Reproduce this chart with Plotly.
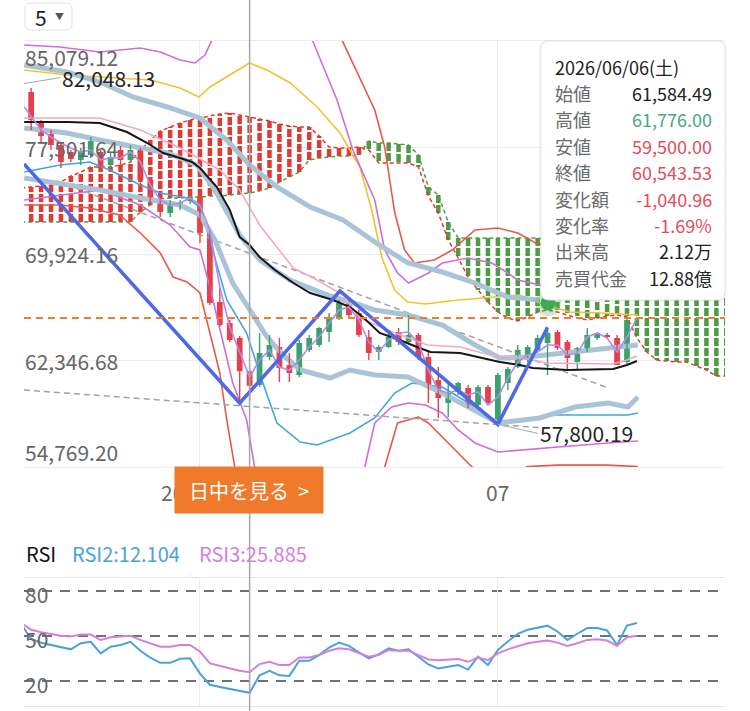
import datetime as dt
import plotly.graph_objects as go

W, H = 750, 711

# ---------------- data ----------------
base_date = dt.date(2026, 6, 1)          # day index 0
candle_days = list(range(-18, 44))
opens = [80200, 81450, 79316, 78462, 77679, 77181, 76612, 76968, 77181, 76256, 77324, 76612, 77324, 75189,
         73553, 72841, 73268, 73695, 73980, 71418, 66509, 65015, 63947, 61584.49, 60604, 62595, 63308, 62026,
         61315, 63094, 63450, 64375, 65370, 66509, 65726, 64018, 62951, 63308, 64375, 63663, 64160, 62595,
         60959, 59322, 60105, 60390, 59180, 60461, 57900, 60746, 61880, 62382, 63094, 63592, 64375, 63663,
         62240, 63094, 63947, 64160, 63947, 62240]
highs = [82048.13, 81735, 79458, 78747, 77893, 77324, 77466, 78249, 77324, 77110, 77608, 77679, 77466, 75403,
         73909, 73766, 73766, 74122, 74122, 71632, 67505, 65228, 64090, 61776.00, 64303, 64161, 63947, 62880,
         63805, 64161, 64730, 65726, 66650, 66793, 65939, 64516, 63450, 64303, 64659, 65583, 64303, 62951,
         61880, 60746, 60817, 60604, 60604, 60604, 61458, 61880, 63450, 63450, 64161, 64516, 64516, 63805,
         63308, 64659, 64303, 64303, 64160, 65370]
lows = [79900, 78746, 77893, 77324, 76043, 76469, 76256, 76754, 75758, 76043, 76256, 76398, 74833, 73410,
        72557, 72557, 73055, 73482, 70707, 66296, 64730, 63663, 59322, 59500.00, 60461, 62382, 60817, 60817,
        61173, 62951, 63308, 63663, 65228, 65441, 64018, 62382, 62382, 63237, 63450, 63592, 62382, 59322,
        58256, 58327, 59892, 58967, 58967, 59180, 57800.19, 60248, 61809, 62240, 62951, 61315, 63094, 61671,
        61671, 62951, 63805, 63947, 62026, 62098]
closes = [81450, 79458, 78320, 77679, 76469, 76683, 77252, 77964, 76043, 76826, 76612, 77324, 75189, 73909,
          72912, 73553, 73625, 73980, 71418, 66438, 64872, 63805, 61584.49, 60543.53, 62880, 63450, 61809, 61457,
          63592, 63947, 64659, 65441, 66438, 65583, 64160, 62880, 63308, 64018, 63663, 64160, 62595, 60604,
          59679, 60034, 60746, 59038, 60461, 59322, 61315, 61738, 63094, 63308, 63947, 64303, 63237, 62524,
          63237, 64160, 64303, 64018, 62026, 65228]
volume_text = "2.12万"
turnover_text = "12.88億"
crosshair_day = 5
current_price = 65370
signal_day, signal_value = 35.05, 66438

y_ticks = [54769.20, 62346.68, 69924.16, 77501.64, 85079.12]
time_ticks = [0, 30]
rsi_levels = [20, 50, 80]

# Ichimoku spans (leading spans, one value per day)
cloud_days = list(range(-18, 54))
span_a = [72201] * 12 + [72912, 73410, 73837, 73909, 73909, 73980, 73980, 74051, 74051, 74122, 74193, 74264,
                         74407, 74620, 75047, 75402, 75758, 76612, 76754, 76825, 76896, 76896, 76968, 77964,
                         77822, 77822, 77750, 77679, 76968, 74691, 74122, 72201] + [71062] * 9 + \
         [70920, 70777, 70564, 70350, 70209, 70067, 69924, 69782] + [69640] * 11
span_b = [74620, 74691, 74762, 74833, 75047, 75474, 75758, 76114, 76114, 76114, 76256, 76469, 77324, 78035,
          78675, 78960, 79245, 79458, 79600, 79743, 79885, 79956, 79814, 79672, 79529, 79387, 79173, 79031,
          78960, 78960, 78320, 77537, 77466, 77466, 77537, 77324, 76398, 76398, 76398, 76398, 76114, 74051,
          72841, 70920, 69640, 68288, 67363, 66509, 65797, 65370, 65157, 65441, 65797, 65940, 65797, 65583,
          65370, 65228, 65370, 65512, 65583, 65441, 63947, 62951, 62382, 62311, 62240, 62240, 61955, 61671,
          61244, 61244]

# band lines
yellow_x = [-17.7, -13.4, -10.1, -5.0, -2.0, -0.1, 1.0, 2.7, 5.0, 6.75, 9.1, 11.8, 14.1, 16.1, 17.3, 18.3,
            19.6, 20.9, 22.7, 26.0, 29.4, 32.2, 34.7, 37.3, 40.3, 44.1]
yellow_y = [83016, 82660, 82518, 82304, 81735, 81095, 81806, 82518, 83514, 83016, 82091, 80383, 78533, 76114,
            73055, 69711, 67363, 66509, 66367, 66651, 66865, 67007, 66296, 65797, 65726, 65583]
purple_up_x = [-17.7, -14.1, -10.1, -6.0, -4.0, -2.0, -0.5, 0.5, 1.3, 4, 8, 11.4, 13.8, 15.4, 17.6, 18.6,
               19.9, 21.0, 23.0, 24.4, 27.0, 29.4, 31.0, 32.0, 34.2, 38.3, 44.1]
purple_up_y = [84794, 84652, 84296, 84581, 84296, 83727, 83514, 84083, 85292, 88500, 89000, 85008, 80881,
               77324, 73766, 70209, 68572, 67861, 68572, 69284, 69640, 69284, 68572, 68074, 67718, 67505, 67363]
red_up_x = [-17.7, 5, 12, 14.3, 17.6, 18.6, 19.6, 20.6, 21.6, 23.6, 25.4, 27.7, 30.0, 32.0, 33.8, 38, 44]
red_up_y = [90500, 93000, 87500, 85150, 80170, 77537, 72912, 70209, 69284, 69497, 70209, 71632, 71775, 71418,
            70707, 70000, 69500]
red_low_x = [-17.7, -14.1, -11.1, -8.1, -6.0, -4.0, -2.7, -1.3, 0, 1.0, 2.0, 2.7, 3.5, 6, 12, 18.6, 19.9,
             22.0, 23.0, 24.4, 26.0, 27.4, 30, 33, 36, 41, 44.1]
red_low_y = [73410, 73410, 73197, 72699, 71418, 69996, 68288, 67932, 67149, 64303, 61457, 58113, 54769, 50000,
             49000, 54769, 57900, 58327, 57900, 56904, 55765, 54769, 53900, 54800, 54900, 54900, 54800]
purple_low_x = [-17.7, -14.1, -10.1, -6.0, -3.0, -1.0, 0, 1.0, 2.3, 3.3, 4.7, 5.5, 9, 14, 16.6, 17.6, 19.3,
                21.0, 22.7, 24.4, 26.0, 27.7, 30.0, 32.7, 36.1, 41.1, 44.1]
purple_low_y = [73766, 74122, 74477, 73410, 71987, 70422, 70209, 67576, 63592, 60746, 58113, 54769, 51500,
                51500, 54769, 57900, 59038, 59322, 59180, 58611, 57402, 56477, 55837, 55979, 56192, 56477, 56619]
blue_x = [-17.7, -14.1, -11.1, -9.1, -6.0, -4.0, -1.3, 0, 1.0, 2.7, 4.7, 6.2, 7.75, 10.1, 11.8, 15.1, 17.6,
          19.6, 21.35, 24.4, 27.7, 30.0, 32.7, 35.0, 37.8, 43.1, 44.1]
blue_y = [75758, 76256, 76469, 75901, 74833, 74264, 73909, 73268, 70920, 66651, 64303, 61030, 57900, 56548,
          56334, 57189, 58256, 60034, 60746, 60461, 59038, 57900, 58113, 58469, 58469, 58469, 58611]

# thick light-blue averages
thick_a_x = [-17.7, -13.4, -10.1, -6.75, -3.3, 0, 2.7, 5.0, 7.75, 11.1, 14.4, 17.6, 20.95, 24.4, 27.7, 31.0, 34.2]
thick_a_y = [83371, 82873, 82162, 81095, 80383, 79600, 78035, 76256, 74691, 73268, 72343, 70778, 69284, 68643,
             67861, 66865, 66651]
thick_b_x = [-17.7, -13.4, -10.1, -6.75, -3.3, -0.3, 1.5, 4.0, 6.0, 9.06, 13.1, 16.1, 17.6, 20.95, 24.4, 27.7,
             30.2, 32.9, 34.9, 38.3, 41.6, 44.1]
thick_b_y = [78889, 78533, 78035, 77537, 77110, 76256, 74477, 71276, 69497, 68074, 66935, 66296, 65940, 65583,
             64872, 63450, 62524, 62595, 62738, 62951, 63236, 63450]
thick_c_x = [-17.7, -13.4, -10.1, -6.0, -2.0, 0, 1.5, 3.3, 5.0, 6.75, 8.36, 10.1, 13.1, 15.1, 17.6, 20.95,
             24.4, 27.2, 30.0, 34.2, 37.8, 41.1, 43.1, 44.1]
thick_c_y = [75331, 74833, 74477, 73909, 73410, 72699, 70920, 67861, 65940, 64018, 62738, 61671, 61101, 61671,
             61315, 61172, 60034, 58967, 57900, 58256, 59038, 59322, 59038, 59750]

# moving averages
black_x = [-17.7, -13.4, -10.1, -7.35, -5.3, -3.7, -2.0, -0.8, 0, 1.7, 3.0, 4.0, 5.0, 6.0, 7.55, 9.4, 11.1,
           13.4, 15.1, 16.4, 18.1, 20.1, 21.85, 23.2, 26.2, 29.2, 30.2, 32.2, 33.5, 37.0, 41.6, 43.0, 44.0]
black_y = [79316, 79316, 79245, 78604, 77822, 77110, 76754, 76469, 76043, 74691, 73055, 71133, 70564, 69711,
           68786, 67861, 67149, 66651, 66153, 65441, 64303, 63805, 63308, 62951, 62880, 62382, 62240, 62026,
           61813, 61671, 61742, 62026, 62311]
pink_x = [-17.7, -10.1, -6.0, -2.0, 2.0, 4.0, 6.0, 9.4, 11.8, 14.4, 16.1, 19.4, 22.9, 26.2, 29.2, 32.5, 34.9,
          41.6, 43.0, 44.0]
pink_y = [79600, 79600, 78746, 77466, 75901, 74477, 71987, 68928, 68074, 67007, 65370, 64374, 63450, 63308,
          62738, 62524, 62169, 62098, 62382, 62667]
short_x = [-17.7] + list(range(-17, 45))
short_y = [80383, 79672, 78746, 78249, 77822, 77466, 77181, 77324, 76612, 76754, 76754, 77181, 76469, 74833,
           73766, 73410, 73553, 73909, 73410, 71632, 67576, 64730, 62880, 61172, 62382, 63094, 61884, 61671,
           62382, 63308, 64018, 65015, 65940, 66153, 65228, 63663, 62951, 63805, 64303, 64374, 63592, 61671,
           60248, 60034, 60248, 59893, 60105, 59180, 59750, 61101, 62240, 62738, 62951, 63450, 63450, 62738,
           62880, 64018, 64303, 63947, 62951, 64018, 65370]

# pattern / trend lines
zigzag_x = [-17.72, 4, 14.1, 30, 35]
zigzag_y = [76330, 59322, 67292, 57800.19, 64712]
trend1_x, trend1_y = [-17.72, 34.7], [60247, 57544]
trend2_x, trend2_y = [-14.4, 41.1], [75118, 60390]

# RSI
rsi_days = list(range(-18, 45))
rsi2 = [58.0, 48.0, 45.5, 44.0, 42.5, 41.1, 45.2, 46.1, 38.4, 42.9, 44.0, 46.1, 40.2, 35.5, 32.1, 32.1, 34.8,
        35.1, 24.9, 17.5, 16.0, 14.6, 13.0, 12.104, 23.8, 26.7, 23.8, 23.4, 33.5, 33.5, 37.3, 42.3, 45.6, 43.4,
        39.1, 35.1, 37.8, 41.8, 40.2, 41.1, 36.2, 31.0, 28.3, 29.4, 30.6, 27.6, 36.2, 30.6, 40.7, 46.3, 51.5,
        54.2, 55.5, 56.9, 53.0, 47.4, 51.5, 55.3, 55.3, 53.7, 44.0, 56.9, 58.7]
rsi3 = [58.7, 54.2, 52.5, 51.2, 50.1, 49.7, 51.0, 51.0, 47.4, 49.2, 49.7, 50.1, 47.4, 45.2, 42.9, 42.9, 44.0,
        44.0, 39.6, 31.7, 29.9, 28.3, 26.8, 25.885, 31.3, 32.8, 30.6, 30.6, 35.7, 35.7, 37.3, 40.2, 41.8, 41.1,
        38.4, 36.2, 37.3, 40.7, 40.2, 40.2, 37.3, 34.4, 33.9, 34.4, 34.6, 32.8, 35.7, 33.9, 38.4, 41.1, 43.4,
        45.2, 46.2, 47.0, 45.6, 43.4, 45.2, 47.4, 47.9, 47.0, 43.4, 49.2, 50.1]

# ---------------- layout constants (pixels) ----------------
PL, PR = 24, 725
MAIN_T, MAIN_B = 41, 467
RSI_T, RSI_B = 578, 706
X_RANGE = [-17.72, 52.87]
RSI_RANGE = [3.333, 88.667]
FONT = "Noto Sans CJK JP, Noto Sans, sans-serif"
UP, DOWN = "#3ba26d", "#e5414b"


def fx(px):
    return px / W


def fy(py):
    return 1 - py / H


def rrect_path(x0, y0, x1, y1, r):
    return " ".join([
        f"M {fx(x0 + r)},{fy(y0)}", f"L {fx(x1 - r)},{fy(y0)}",
        f"Q {fx(x1)},{fy(y0)} {fx(x1)},{fy(y0 + r)}", f"L {fx(x1)},{fy(y1 - r)}",
        f"Q {fx(x1)},{fy(y1)} {fx(x1 - r)},{fy(y1)}", f"L {fx(x0 + r)},{fy(y1)}",
        f"Q {fx(x0)},{fy(y1)} {fx(x0)},{fy(y1 - r)}", f"L {fx(x0)},{fy(y0 + r)}",
        f"Q {fx(x0)},{fy(y0)} {fx(x0 + r)},{fy(y0)}", "Z"])


fig = go.Figure()


def line(x, y, color, width, dash="solid", xa="x", ya="y"):
    fig.add_trace(go.Scatter(x=x, y=y, mode="lines", xaxis=xa, yaxis=ya, hoverinfo="skip",
                             line=dict(color=color, width=width, dash=dash)))


# Ichimoku cloud hatch bars
cx = {"r": [], "g": []}
cy = {"r": [], "g": []}
for d, a, b in zip(cloud_days, span_a, span_b):
    k = "g" if a >= b else "r"
    cx[k] += [d, d, None]
    cy[k] += [a, b, None]
line(cx["r"], cy["r"], "#e03a32", 4.5, "8px,2px")
line(cx["g"], cy["g"], "#4d9c45", 4.5, "8px,2px")
line(cloud_days, span_a, "#4d9c45", 1.5, "4px,3px")
line(cloud_days, span_b, "#e03a32", 1.5, "4px,3px")

# bands
line(yellow_x, yellow_y, "#f3c232", 1.6)
line(red_up_x, red_up_y, "#e55a4e", 1.6)
line(red_low_x, red_low_y, "#e55a4e", 1.6)
line(purple_up_x, purple_up_y, "#cd6fd7", 1.6)
line(purple_low_x, purple_low_y, "#cd6fd7", 1.6)
line(blue_x, blue_y, "#43a6dc", 1.6)

# trend lines
line(trend1_x, trend1_y, "#a2a2a2", 1.5, "6px,4px")
line(trend2_x, trend2_y, "#a2a2a2", 1.5, "6px,4px")

# thick averages
for tx, ty in [(thick_a_x, thick_a_y), (thick_b_x, thick_b_y), (thick_c_x, thick_c_y)]:
    line(tx, ty, "#a9c4d7", 5)

# candles
wx = {"u": [], "d": []}
wy = {"u": [], "d": []}
bases, heights, colors = [], [], []
for d, o, h, l, c in zip(candle_days, opens, highs, lows, closes):
    k = "u" if c >= o else "d"
    wx[k] += [d, d, None]
    wy[k] += [l, h, None]
    bases.append(min(o, c))
    heights.append(max(abs(c - o), 45))
    colors.append(UP if k == "u" else DOWN)
line(wx["u"], wy["u"], UP, 1.4)
line(wx["d"], wy["d"], DOWN, 1.4)
fig.add_trace(go.Bar(x=candle_days, y=heights, base=bases, width=0.58, marker=dict(color=colors, line_width=0),
                     hoverinfo="skip"))

# moving averages
line(pink_x, pink_y, "#f3a8c4", 1.6)
line(black_x, black_y, "#161616", 2)
line(short_x, short_y, "#b58be6", 1.6)

# zigzag
line(zigzag_x, zigzag_y, "#4d69e4", 3.5)

# signal dot
fig.add_trace(go.Scatter(x=[signal_day], y=[signal_value], mode="markers", hoverinfo="skip",
                         marker=dict(size=26, color="rgba(80,180,90,0.30)")))
fig.add_trace(go.Scatter(x=[signal_day], y=[signal_value], mode="markers", hoverinfo="skip",
                         marker=dict(size=15, color="#3fab55")))

# RSI
line(rsi_days, rsi2, "#4aa3d8", 2, xa="x2", ya="y2")
line(rsi_days, rsi3, "#d580d8", 2, xa="x2", ya="y2")

# ---------------- shapes ----------------
shapes = []
for lv in rsi_levels:
    shapes.append(dict(type="line", xref="paper", yref="y2", x0=fx(PL), x1=fx(PR), y0=lv, y1=lv,
                       line=dict(color="#6e7278", width=2, dash="10px,8px"), layer="below"))
shapes.append(dict(type="line", xref="paper", yref="y", x0=fx(PL), x1=fx(PR), y0=current_price,
                   y1=current_price, line=dict(color="#ef7d2e", width=2, dash="7px,5px"), layer="above"))
shapes.append(dict(type="line", xref="x", yref="paper", x0=crosshair_day, x1=crosshair_day, y0=0, y1=1,
                   line=dict(color="#a8a8a8", width=1.5), layer="above"))
# dropdown box
shapes.append(dict(type="path", xref="paper", yref="paper", path=rrect_path(25, 3, 72, 30, 6),
                   fillcolor="white", line=dict(color="#e2e2e2", width=1), layer="above"))
# tooltip
shapes.append(dict(type="path", xref="paper", yref="paper", path=rrect_path(539, 40, 727, 302, 9),
                   fillcolor="rgba(0,0,0,0.04)", line=dict(width=0), layer="above"))
shapes.append(dict(type="path", xref="paper", yref="paper", path=rrect_path(541, 41, 725, 300, 8),
                   fillcolor="white", line=dict(color="#e4e4e4", width=1), layer="above"))

# ---------------- annotations ----------------
ann = []


def text(x, y, s, size=20, color="#666", xanchor="left", xref="paper", yref="paper", **kw):
    ann.append(dict(x=x, y=y, text=s, xref=xref, yref=yref, xanchor=xanchor, yanchor="middle",
                    showarrow=False, font=dict(family=FONT, size=size, color=color), **kw))


for v in y_ticks:
    shift = -16 if v == max(y_ticks) else (15 if v == min(y_ticks) else 0)
    text(fx(PL) - 0.002, v, f"{v:,.2f}", size=21, yref="y", yshift=shift)
for lv in rsi_levels:
    text(fx(PL) - 0.002, lv, f"{lv}", size=21, yref="y2", yshift=-3)

# extremes
imax = highs.index(max(highs))
ann.append(dict(x=fx(PL), y=highs[imax], xref="paper", yref="y", text=f"{highs[imax]:,.2f}",
                showarrow=True, arrowhead=0, arrowwidth=1, arrowcolor="#a8a8a8", ax=36, ay=-6,
                xanchor="left", yanchor="middle", font=dict(family=FONT, size=21, color="#262626")))
imin = lows.index(min(lows))
ann.append(dict(x=candle_days[imin], y=lows[imin], xref="x", yref="y", text=f"{lows[imin]:,.2f}",
                showarrow=True, arrowhead=0, arrowwidth=1, arrowcolor="#a8a8a8", ax=40, ay=9,
                xanchor="left", yanchor="middle", font=dict(family=FONT, size=21, color="#262626")))

# time labels
for t in time_ticks:
    dd = base_date + dt.timedelta(days=t)
    lab = dd.strftime("%Y/%m") if t == time_ticks[0] else dd.strftime("%m")
    text(t, fy(492), lab, size=21, xref="x", xanchor="center")

# RSI header
ci = rsi_days.index(crosshair_day)
text(fx(24), fy(553), "RSI", color="#111")
text(fx(70), fy(553), f"RSI2:{rsi2[ci]:.3f}", color="#4aa3d8")
text(fx(197), fy(553), f"RSI3:{rsi3[ci]:.3f}", color="#d580d8")

# dropdown text
text(fx(33), fy(17), "5", size=21, color="#222")
text(fx(53), fy(16), "▼", size=9, color="#555")

# tooltip contents
k = candle_days.index(crosshair_day)
o, h, l, c = opens[k], highs[k], lows[k], closes[k]
chg = c - o
pct = chg / o * 100
dd = base_date + dt.timedelta(days=crosshair_day)
wd = "月火水木金土日"[dd.weekday()]
GREEN_T, RED_T, DARK = "#45a983", "#e14d5e", "#222"
col = lambda v, ref: GREEN_T if v > ref else (RED_T if v < ref else DARK)
rows = [("始値", f"{o:,.2f}", DARK), ("高値", f"{h:,.2f}", col(h, o)), ("安値", f"{l:,.2f}", col(l, o)),
        ("終値", f"{c:,.2f}", col(c, o)), ("変化額", f"{chg:,.2f}", col(chg, 0)),
        ("変化率", f"{pct:.2f}%", col(pct, 0)), ("出来高", volume_text, DARK), ("売買代金", turnover_text, DARK)]
text(fx(553), fy(67), dd.strftime("%Y/%m/%d") + f"({wd})", size=18, color="#222")
for i, (lab, val, cc) in enumerate(rows):
    yy = 93 + i * 26.4
    text(fx(553), fy(yy), lab, size=18, color="#6a6a6a")
    text(fx(714), fy(yy), val, size=18, color=cc, xanchor="right")

# button (drawn last so it covers the date label)
ann.append(dict(x=fx(249), y=fy(490), xref="paper", yref="paper", text="日中を見る  >", showarrow=False,
                xanchor="center", yanchor="middle", width=148, height=46, bgcolor="#f07a2b", borderpad=0,
                font=dict(family=FONT, size=20, color="white")))

# ---------------- layout ----------------
axis_common = dict(showticklabels=False, zeroline=False, ticks="")
fig.update_layout(
    width=W, height=H, margin=dict(l=0, r=0, t=0, b=0), paper_bgcolor="white", plot_bgcolor="white",
    showlegend=False, barmode="overlay", shapes=shapes, annotations=ann,
    xaxis=dict(domain=[fx(PL), fx(PR)], range=X_RANGE, anchor="y", tickvals=time_ticks, showgrid=True,
               gridcolor="#ececec", showline=True, mirror=True, linecolor="#ececec", **axis_common),
    yaxis=dict(domain=[fy(MAIN_B), fy(MAIN_T)], range=[min(y_ticks), max(y_ticks)], anchor="x",
               tickvals=y_ticks, showgrid=True, gridcolor="#ececec", **axis_common),
    xaxis2=dict(domain=[fx(PL), fx(PR)], range=X_RANGE, anchor="y2", tickvals=time_ticks, showgrid=True,
                gridcolor="#ececec", showline=True, mirror=True, linecolor="#e6e6e6", **axis_common),
    yaxis2=dict(domain=[fy(RSI_B), fy(RSI_T)], range=RSI_RANGE, anchor="x2", showgrid=False, **axis_common),
)

fig.write_html("out.html")
